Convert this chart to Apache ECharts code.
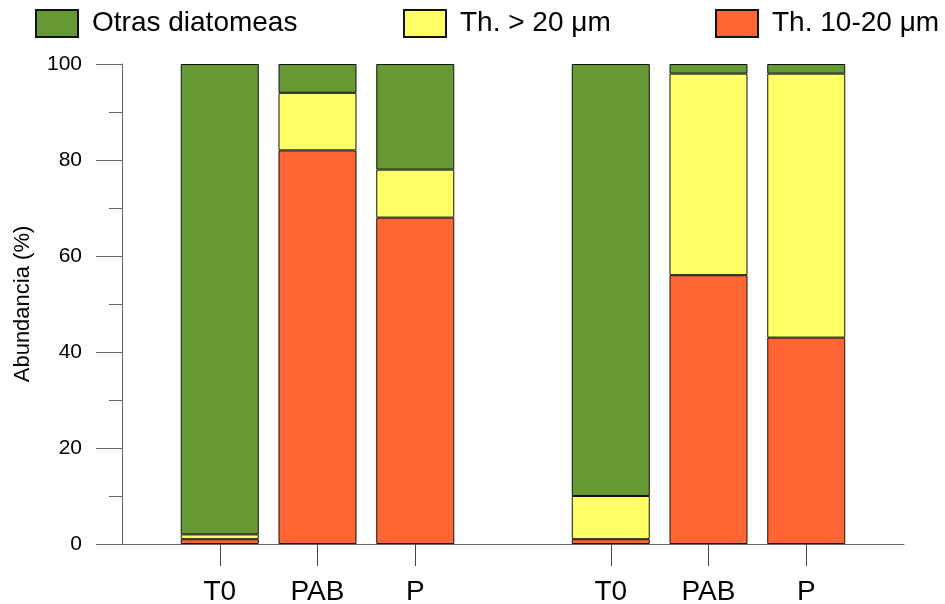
<!DOCTYPE html>
<html>
<head>
<meta charset="utf-8">
<script src="https://cdn.jsdelivr.net/npm/echarts@6/dist/echarts.min.js"></script>
<style>html,body{margin:0;padding:0;background:#fff}#c{width:945px;height:604px}</style>
</head>
<body>
<div id="c"></div>
<script>
var categories = ['', 'T0', 'PAB', 'P', '', 'T0', 'PAB', 'P', ''];
var th1020 = [null, 1, 82, 68, null, 1, 56, 43, null];
var th20 = [null, 1, 12, 10, null, 9, 42, 55, null];
var otras = [null, 98, 6, 22, null, 90, 2, 2, null];
var yTicks = [0, 20, 40, 60, 80, 100];

var FONT = '"Liberation Sans", Arial, sans-serif';
var chart = echarts.init(document.getElementById('c'));
function leg(name, left) {
  return {
    data: [name], left: left, top: 9, padding: 0, itemWidth: 42, itemHeight: 27, itemGap: 0,
    icon: 'rect', textStyle: {fontFamily: FONT, fontSize: 28, color: '#000', padding: [0, 0, 0, 9]},
    selectedMode: false
  };
}
var barStyle = {borderColor: '#111', borderWidth: 1};
chart.setOption({
  animation: false,
  legend: [leg('Otras diatomeas', 35), leg('Th. > 20 \u03bcm', 403), leg('Th. 10-20 \u03bcm', 715)],
  grid: {left: 122, right: 41, top: 64, bottom: 60, containLabel: false, outerBoundsMode: 'none'},
  xAxis: {
    type: 'category', data: categories, boundaryGap: false,
    axisLine: {lineStyle: {color: '#666', width: 1}},
    axisTick: {length: 22, lineStyle: {color: '#444'}, interval: function (i, v) { return categories[i] !== ''; }},
    axisLabel: {fontFamily: FONT, fontSize: 28, color: '#000', margin: 34, interval: 0},
    splitLine: {show: false}
  },
  yAxis: {
    type: 'value', min: yTicks[0], max: yTicks[yTicks.length - 1], interval: 20,
    name: 'Abundancia (%)', nameLocation: 'middle', nameGap: 88,
    nameTextStyle: {fontFamily: FONT, fontSize: 22, color: '#000'},
    axisLine: {show: true, lineStyle: {color: '#666', width: 1}},
    axisTick: {show: true, length: 26, lineStyle: {color: '#666'}},
    minorTick: {show: true, splitNumber: 2, length: 13, lineStyle: {color: '#666'}},
    axisLabel: {fontFamily: FONT, fontSize: 21, color: '#000', margin: 40},
    splitLine: {show: false}
  },
  series: [
    {name: 'Th. 10-20 \u03bcm', type: 'bar', stack: 's', data: th1020, barWidth: 78, itemStyle: Object.assign({color: '#FF6633'}, barStyle)},
    {name: 'Th. > 20 \u03bcm', type: 'bar', stack: 's', data: th20, barWidth: 78, itemStyle: Object.assign({color: '#FFFF66'}, barStyle)},
    {name: 'Otras diatomeas', type: 'bar', stack: 's', data: otras, barWidth: 78, itemStyle: Object.assign({color: '#669933'}, barStyle)}
  ]
});
</script>
</body>
</html>
